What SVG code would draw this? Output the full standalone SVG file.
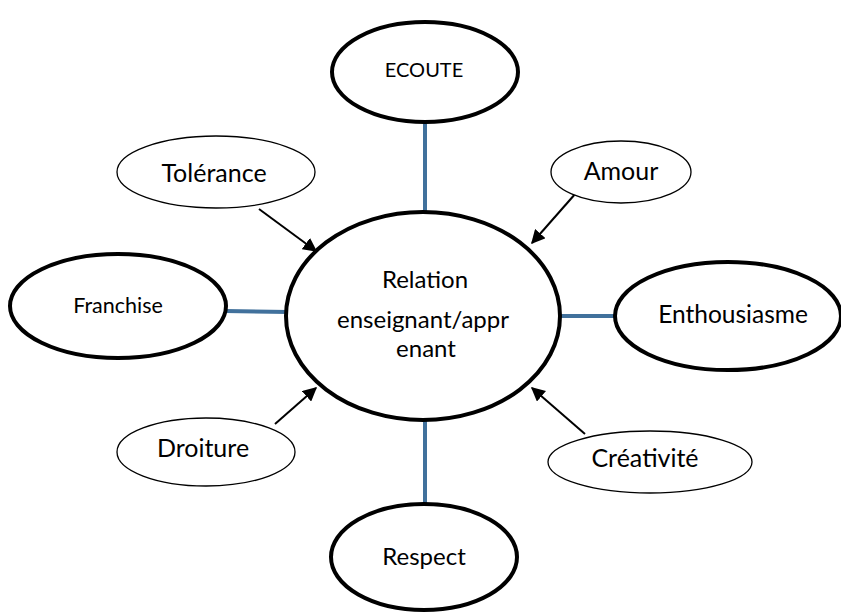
<svg xmlns="http://www.w3.org/2000/svg" width="841" height="613" viewBox="0 0 841 613">
<style>
text{font-family:Lato,"Liberation Sans",sans-serif;fill:#000;text-anchor:middle}
.thick{fill:#fff;stroke:#000;stroke-width:4}
.thin{fill:#fff;stroke:#000;stroke-width:1.3}
.link{stroke:#41719c;stroke-width:4;fill:none}
.arr{stroke:#000;stroke-width:2;fill:none;marker-end:url(#ah)}
</style>
<defs>
<marker id="ah" viewBox="0 0 10 10" refX="9" refY="5" markerWidth="7" markerHeight="7" markerUnits="strokeWidth" orient="auto">
<path d="M0,0 L10,5 L0,10 z" fill="#000"/>
</marker>
</defs>
<rect width="841" height="613" fill="#fff"/>
<g id="connectors">
<line class="link" x1="425" y1="120" x2="425" y2="214"/>
<line class="link" x1="425" y1="418" x2="425" y2="504"/>
<line class="link" x1="225" y1="311" x2="288" y2="312"/>
<line class="link" x1="558" y1="316" x2="617" y2="316"/>
<line class="arr" x1="259" y1="209" x2="316" y2="251"/>
<line class="arr" x1="576" y1="193" x2="532" y2="243"/>
<line class="arr" x1="585" y1="434" x2="532" y2="388"/>
<line class="arr" x1="275" y1="424" x2="316" y2="388"/>
</g>
<g id="center">
<ellipse class="thick" cx="423" cy="316" rx="137" ry="104"/>
<text x="425" y="288" font-size="24">Relation</text>
<text x="423" y="328" font-size="24">enseignant/appr</text>
<text x="426" y="357" font-size="24">enant</text>
</g>
<g id="ecoute">
<ellipse class="thick" cx="425" cy="72" rx="93" ry="50"/>
<text x="424" y="77" font-size="20">ECOUTE</text>
</g>
<g id="respect">
<ellipse class="thick" cx="424" cy="557" rx="93" ry="53"/>
<text x="424" y="565" font-size="24">Respect</text>
</g>
<g id="franchise">
<ellipse class="thick" cx="118" cy="306" rx="108" ry="52"/>
<text x="118" y="313" font-size="21.5">Franchise</text>
</g>
<g id="enthousiasme">
<ellipse class="thick" cx="728" cy="316" rx="113" ry="54"/>
<text x="733" y="323" font-size="24.5">Enthousiasme</text>
</g>
<g id="tolerance">
<ellipse class="thin" cx="216" cy="172" rx="99" ry="36"/>
<text x="214" y="182" font-size="25">Tolérance</text>
</g>
<g id="amour">
<ellipse class="thin" cx="621" cy="172" rx="70" ry="31"/>
<text x="621" y="180" font-size="25">Amour</text>
</g>
<g id="droiture">
<ellipse class="thin" cx="206" cy="452" rx="89" ry="34"/>
<text x="203" y="457" font-size="25">Droiture</text>
</g>
<g id="creativite">
<ellipse class="thin" cx="650" cy="462" rx="102" ry="31"/>
<text x="645" y="467" font-size="25">Créativité</text>
</g>
</svg>
